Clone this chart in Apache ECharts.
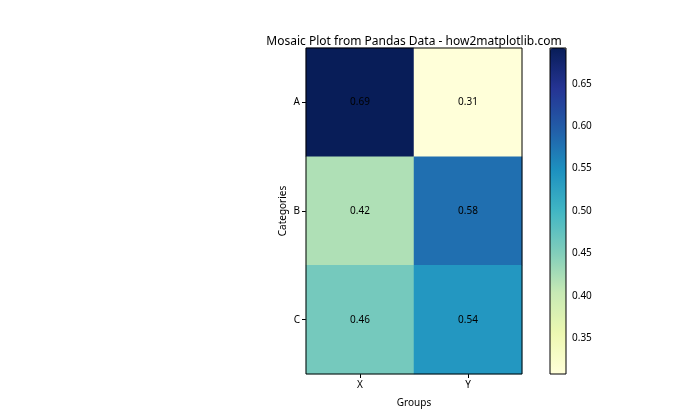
<!DOCTYPE html>
<html>
<head>
<meta charset="utf-8">
<script src="https://cdn.jsdelivr.net/npm/echarts@6/dist/echarts.min.js"></script>
<style>
  html, body { margin: 0; padding: 0; background: #fff; }
  #chart { width: 700px; height: 420px; }
</style>
</head>
<body>
<div id="chart"></div>
<script>
// 数据
const groups = ['X', 'Y'];
const categories = ['A', 'B', 'C'];
const valuesX = [0.6923, 0.42, 0.46];
const valuesY = [0.3077, 0.58, 0.54];
const colorbarTicks = [0.35, 0.40, 0.45, 0.50, 0.55, 0.60, 0.65];

// YlGnBu
const ylGnBu = ['#ffffd9', '#edf8b1', '#c7e9b4', '#7fcdbb', '#41b6c4', '#1d91c0', '#225ea8', '#253494', '#081d58'];

const allValues = valuesX.concat(valuesY);
const vMin = Math.min.apply(null, allValues);
const vMax = Math.max.apply(null, allValues);

const cells = [];
categories.forEach(function (c, i) {
    cells.push([0, i, valuesX[i]]);
    cells.push([1, i, valuesY[i]]);
});

const font = 'Noto Sans';
const chart = echarts.init(document.getElementById('chart'));

const option = {
    animation: false,
    textStyle: { fontFamily: font },
    title: {
        text: 'Mosaic Plot from Pandas Data - how2matplotlib.com',
        left: 409,
        textAlign: 'center',
        top: 31,
        textStyle: { fontSize: 12, fontWeight: 'normal', color: '#000', fontFamily: font }
    },
    grid: [
        { left: 306, top: 48, width: 216, height: 326, show: true, borderColor: '#000', borderWidth: 1, backgroundColor: 'transparent', z: 10 },
        { left: 550, top: 48, width: 16, height: 326, show: true, borderColor: '#000', borderWidth: 1, backgroundColor: 'transparent', z: 10 }
    ],
    xAxis: [
        {
            gridIndex: 0,
            type: 'category',
            data: groups,
            name: 'Groups',
            nameLocation: 'middle',
            nameGap: 24,
            nameTextStyle: { fontSize: 10, color: '#000' },
            axisLine: { show: false },
            axisTick: { show: true, alignWithLabel: true, length: 4, lineStyle: { color: '#000' } },
            axisLabel: { fontSize: 10, color: '#000', margin: 6 },
            splitLine: { show: false }
        },
        {
            gridIndex: 1,
            type: 'value',
            show: false
        }
    ],
    yAxis: [
        {
            gridIndex: 0,
            type: 'category',
            data: categories,
            inverse: true,
            name: 'Categories',
            nameLocation: 'middle',
            nameGap: 18,
            nameTextStyle: { fontSize: 10, color: '#000' },
            axisLine: { show: false },
            axisTick: { show: true, alignWithLabel: true, length: 4, lineStyle: { color: '#000' } },
            axisLabel: { fontSize: 10, color: '#000', margin: 6 },
            splitLine: { show: false }
        },
        {
            gridIndex: 1,
            type: 'value',
            position: 'right',
            min: vMin,
            max: vMax,
            axisLine: { show: false },
            axisTick: { show: true, length: 4, customValues: colorbarTicks, lineStyle: { color: '#000' } },
            axisLabel: {
                fontSize: 10, color: '#000', margin: 6,
                customValues: colorbarTicks,
                formatter: function (v) { return v.toFixed(2); }
            },
            splitLine: { show: false }
        }
    ],
    visualMap: {
        type: 'continuous',
        seriesIndex: 0,
        min: vMin,
        max: vMax,
        calculable: false,
        orient: 'vertical',
        left: 550,
        top: 48,
        itemWidth: 16,
        itemHeight: 326,
        padding: 0,
        text: null,
        showLabel: false,
        inRange: { color: ylGnBu }
    },
    series: [
        {
            type: 'heatmap',
            xAxisIndex: 0,
            yAxisIndex: 0,
            data: cells,
            label: {
                show: true,
                color: '#000',
                fontSize: 10,
                formatter: function (p) { return p.value[2].toFixed(2); }
            },
            itemStyle: { borderWidth: 0 },
            emphasis: { disabled: true }
        }
    ]
};

chart.setOption(option);
</script>
</body>
</html>
